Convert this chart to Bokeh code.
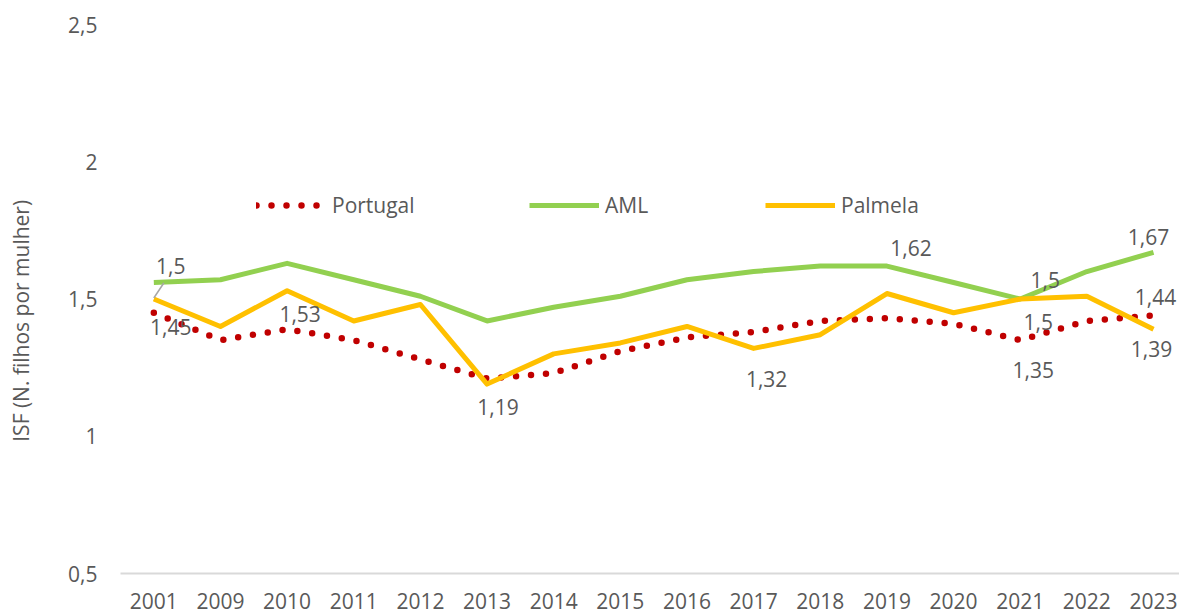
from bokeh.plotting import figure
from bokeh.models import Range1d, FixedTicker, Legend, LegendItem
from bokeh.core.properties import value
from bokeh.embed import file_html
from bokeh.resources import INLINE

# ---------------- data ----------------
years = ["2001", "2009", "2010", "2011", "2012", "2013", "2014", "2015",
         "2016", "2017", "2018", "2019", "2020", "2021", "2022", "2023"]
portugal = [1.45, 1.35, 1.39, 1.35, 1.28, 1.21, 1.23, 1.31,
            1.36, 1.38, 1.42, 1.43, 1.41, 1.35, 1.42, 1.44]
aml = [1.56, 1.57, 1.63, 1.57, 1.51, 1.42, 1.47, 1.51,
       1.57, 1.60, 1.62, 1.62, 1.56, 1.50, 1.60, 1.67]
palmela = [1.50, 1.40, 1.53, 1.42, 1.48, 1.19, 1.30, 1.34,
           1.40, 1.32, 1.37, 1.52, 1.45, 1.50, 1.51, 1.39]
y_ticks = [0.5, 1, 1.5, 2, 2.5]
y_tick_labels = ["0,5", "1", "1,5", "2", "2,5"]
y_title = "ISF (N. filhos por mulher)"

# data labels: (series, year index, x offset px, y offset px)
label_specs = [
    ("Palmela", 0, 17, -33),
    ("Portugal", 0, 17, 14),
    ("Palmela", 2, 13, 23),
    ("Palmela", 5, 11, 23),
    ("Palmela", 9, 13, 31),
    ("AML", 11, 24, -18),
    ("AML", 13, 25, -19),
    ("Palmela", 13, 18, 23),
    ("Portugal", 13, 13, 30),
    ("AML", 15, -5, -15),
    ("Portugal", 15, 2, -18),
    ("Palmela", 15, -2, 20),
]

FONT = "Open Sans"
GREY = "#595959"
W, H = 1179, 615
BL, BR, BT, BB = 120, 0, 24, 42
X0, X1 = -0.5, 15.39
Y0, Y1 = 0.5, 2.5

p = figure(width=W, height=H, output_backend="svg", toolbar_location=None,
           x_range=Range1d(X0, X1), y_range=Range1d(Y0, Y1),
           min_border_left=BL, min_border_right=BR, min_border_top=BT,
           min_border_bottom=BB)
p.outline_line_color = None
p.xgrid.visible = False
p.ygrid.visible = False
p.background_fill_color = "white"
p.border_fill_color = "white"

xs = list(range(len(years)))
series = {"Portugal": portugal, "AML": aml, "Palmela": palmela}

r_pt = p.line(xs, portugal, line_color="#C00000", line_width=6.5,
              line_dash="0 15", line_cap="round")
r_aml = p.line(xs, aml, line_color="#92D050", line_width=5, line_join="round")
r_pal = p.line(xs, palmela, line_color="#FFC000", line_width=5, line_join="round")

# axes
xa = p.xaxis[0]
xa.ticker = FixedTicker(ticks=xs)
xa.major_label_overrides = {i: y for i, y in enumerate(years)}
xa.axis_line_color = "#D9D9D9"
xa.axis_line_width = 2
xa.major_tick_line_color = None
xa.minor_tick_line_color = None
xa.major_tick_out = 0
xa.major_label_standoff = 19
xa.major_label_text_font = FONT
xa.major_label_text_font_size = "21px"
xa.major_label_text_color = GREY

ya = p.yaxis[0]
ya.ticker = FixedTicker(ticks=y_ticks)
ya.major_label_overrides = {t: l for t, l in zip(y_ticks, y_tick_labels)}
ya.axis_line_color = None
ya.major_tick_line_color = None
ya.minor_tick_line_color = None
ya.major_tick_out = 0
ya.major_label_standoff = 23
ya.major_label_text_font = FONT
ya.major_label_text_font_size = "21px"
ya.major_label_text_color = GREY
# trailing no-break spaces shift the centred title slightly downwards
ya.axis_label = y_title + "\u00a0" * 8
ya.axis_label_text_font = FONT
ya.axis_label_text_font_size = "21px"
ya.axis_label_text_font_style = "normal"
ya.axis_label_text_color = GREY
ya.axis_label_standoff = 30

fw = W - BL - BR
fh = H - BT - BB
ppx = fw / (X1 - X0)
ppy = fh / (Y1 - Y0)

# data labels
lx, ly, lt, ldx, ldy = [], [], [], [], []
for name, i, dx, dy in label_specs:
    v = series[name][i]
    lx.append(i)
    ly.append(v)
    lt.append(f"{v:g}".replace(".", ","))
    ldx.append(dx)
    ldy.append(dy)
p.text(x=lx, y=ly, text=lt, x_offset=ldx, y_offset=ldy,
       text_font=value(FONT), text_font_size="21px", text_color=GREY,
       text_align="center", text_baseline="middle")

# leader line for the first Palmela label
p.line([0 + 10 / ppx, 0], [palmela[0] + 16 / ppy, palmela[0] + 1 / ppy],
       line_color="#A6A6A6", line_width=1.5)

# legends (one per item, placed along one row)
for r, name, xo in [(r_pt, "Portugal", 136), (r_aml, "AML", 409), (r_pal, "Palmela", 645)]:
    lg = Legend(items=[LegendItem(label=name, renderers=[r])],
                location=(xo, 354), orientation="horizontal",
                glyph_width=70, glyph_height=20, label_standoff=6,
                padding=0, margin=0, spacing=0,
                border_line_color=None, background_fill_alpha=0,
                label_text_font=FONT, label_text_font_size="21px",
                label_text_color=GREY)
    p.add_layout(lg, "center")

open("out.html", "w").write(file_html(p, INLINE))
